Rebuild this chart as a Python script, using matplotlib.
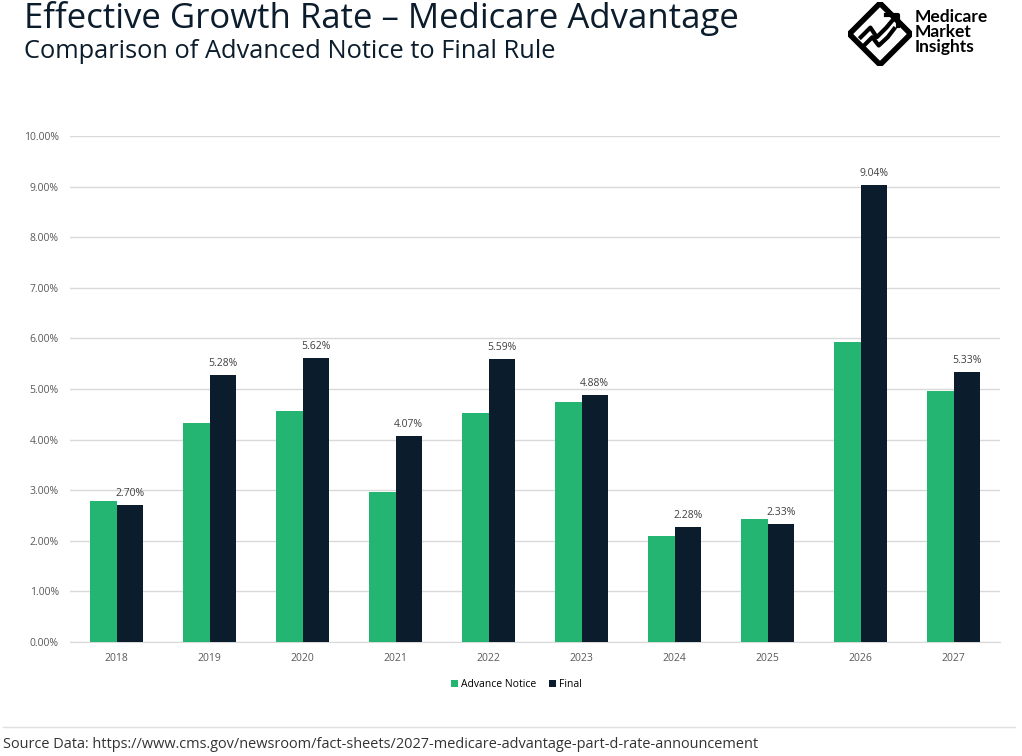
import matplotlib.pyplot as plt
import numpy as np
from matplotlib.patches import Polygon

# data
years = ['2018', '2019', '2020', '2021', '2022', '2023', '2024', '2025', '2026', '2027']
advance_notice = [2.79, 4.33, 4.57, 2.97, 4.52, 4.75, 2.09, 2.44, 5.93, 4.97]
final_rule = [2.70, 5.28, 5.62, 4.07, 5.59, 4.88, 2.28, 2.33, 9.04, 5.33]
y_ticks = [0, 1, 2, 3, 4, 5, 6, 7, 8, 9, 10]

green = '#25b573'
navy = '#0b1c2c'
grey_txt = '#595959'

fig = plt.figure(figsize=(10.22, 7.56), dpi=100)
ax = fig.add_axes([70 / 1022, 1 - 642 / 756, 930 / 1022, 506 / 756])

x = np.arange(len(years))
w = 0.285
ax.bar(x - w / 2, advance_notice, w, color=green, label='Advance Notice', zorder=3)
bars = ax.bar(x + w / 2, final_rule, w, color=navy, label='Final', zorder=3)

for b, v in zip(bars, final_rule):
    ax.text(b.get_x() + b.get_width() / 2, v + 0.12, f'{v:.2f}%', ha='center', va='bottom',
            fontsize=7.5, color='#404040', family='Open Sans')

ax.set_xlim(-0.5, len(years) - 0.5)
ax.set_ylim(0, 10)
ax.set_xticks(x)
ax.set_xticklabels(years, fontsize=7.5, color=grey_txt, family='Open Sans')
ax.set_yticks(y_ticks)
ax.set_yticklabels([f'{t:.2f}%' for t in y_ticks], fontsize=7.5, color=grey_txt, family='Open Sans')
ax.tick_params(length=0, pad=8)
ax.grid(axis='y', color='#d9d9d9', linewidth=1, zorder=0)
for s in ['top', 'right', 'left']:
    ax.spines[s].set_visible(False)
ax.spines['bottom'].set_color('#d9d9d9')

ax.legend(loc='upper center', bbox_to_anchor=(0.48, -0.055), ncol=2, frameon=False,
          handlelength=0.7, handleheight=0.7, handletextpad=0.3,
          columnspacing=1.2, prop={'family': 'Open Sans', 'size': 7.5})

# titles
fig.text(24 / 1022, 1 - 19 / 756, 'Effective Growth Rate \u2013 Medicare Advantage', fontsize=25,
         color=navy, va='center', ha='left', family='Open Sans')
fig.text(24 / 1022, 1 - 52 / 756, 'Comparison of Advanced Notice to Final Rule', fontsize=18.3,
         color=navy, va='center', ha='left', family='Open Sans')

# logo
lax = fig.add_axes([848 / 1022, 1 - 66 / 756, 64 / 1022, 64 / 756])
lax.set_xlim(0, 1)
lax.set_ylim(0, 1)
lax.axis('off')
lax.add_patch(Polygon([[0.5, 0.98], [0.98, 0.5], [0.5, 0.02], [0.02, 0.5]], closed=True,
                      fill=False, edgecolor='black', linewidth=4))
lax.plot([0.2, 0.35, 0.45, 0.6, 0.75], [0.45, 0.6, 0.45, 0.6, 0.78], color='black', lw=3)
lax.plot([0.25, 0.38, 0.48, 0.62, 0.72], [0.32, 0.45, 0.32, 0.45, 0.58], color='black', lw=3)
lax.plot([0.6, 0.78, 0.78], [0.8, 0.8, 0.62], color='black', lw=3)
fig.text(915 / 1022, 1 - 32 / 756, 'Medicare\nMarket\nInsights', fontsize=12.5, fontweight='bold',
         color='black', va='center', ha='left', linespacing=0.92, family='Lato')

# footer
fig.add_artist(plt.Line2D([3 / 1022, 1015 / 1022], [1 - 727 / 756, 1 - 727 / 756],
                          color='#e0e0e0', lw=1))
fig.text(3 / 1022, 1 - 745 / 756,
         'Source Data: https://www.cms.gov/newsroom/fact-sheets/2027-medicare-advantage-part-d-rate-announcement',
         fontsize=10.45, color='#333333', va='center', ha='left', family='Open Sans')

plt.savefig('out.png', dpi=100)
